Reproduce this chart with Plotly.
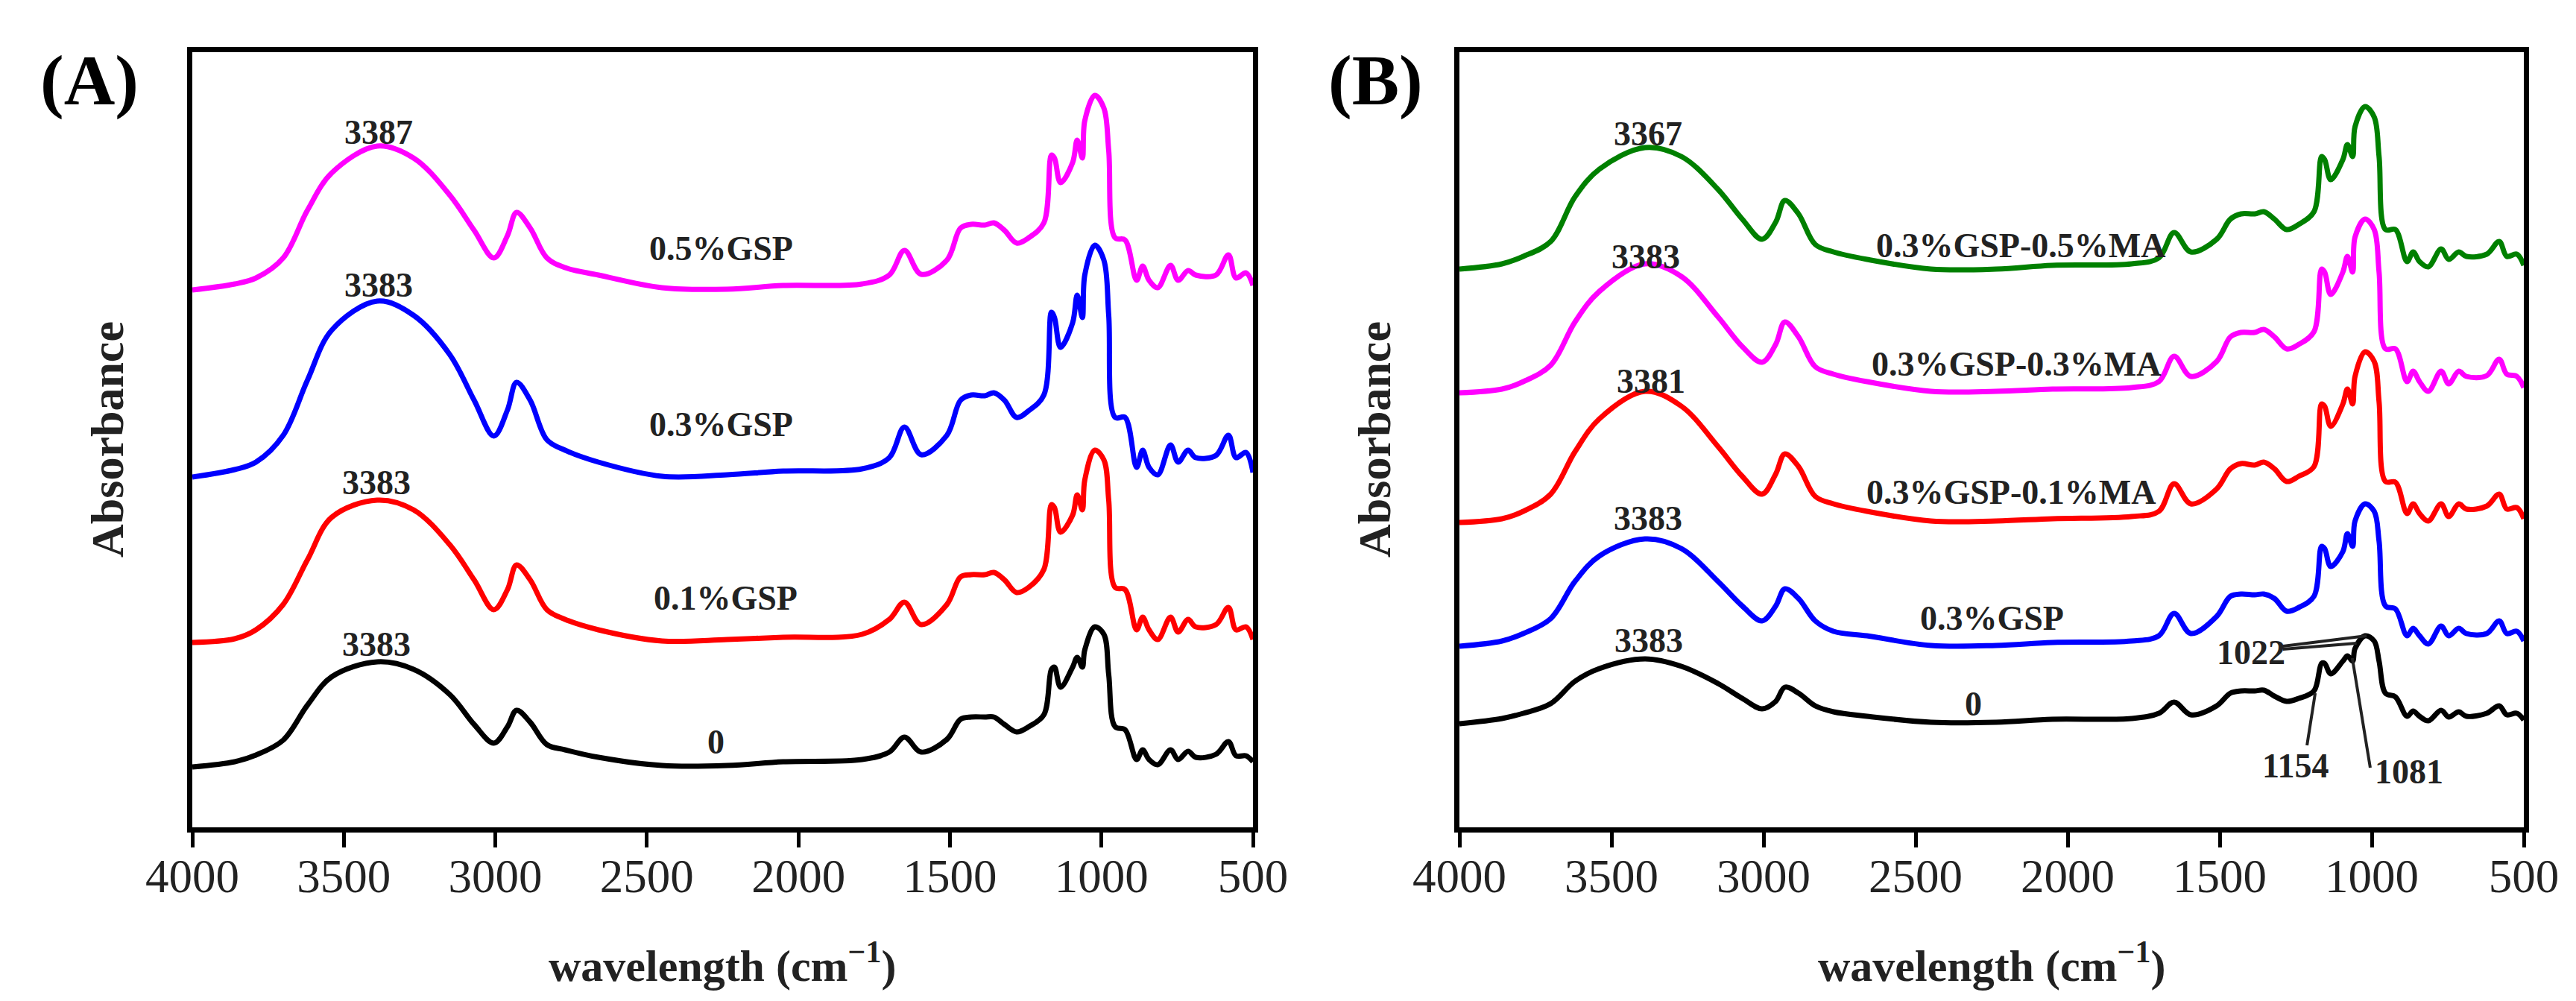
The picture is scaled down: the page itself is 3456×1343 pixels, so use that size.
import plotly.graph_objects as go
from plotly.subplots import make_subplots

# wavenumber grid (cm-1) shared by all spectra
wavenumber = [4000, 3860, 3790, 3700, 3620, 3540, 3390, 3270, 3150, 3070,
              3005, 2960, 2930, 2885, 2830, 2770, 2660, 2450, 2235, 2050,
              1790, 1700, 1650, 1595, 1510, 1465, 1430, 1385, 1355, 1320,
              1280, 1240, 1190, 1165, 1155, 1135, 1095, 1080, 1063, 1055,
              1022, 992, 976, 955, 922, 884, 864, 843, 814, 772,
              747, 714, 689, 622, 581, 556, 523, 500]

# ---- panel A, offset absorbance (a.u.) ----
a_0 = [0.81, 0.88, 0.97, 1.17, 1.64, 2.02, 2.22, 2.12, 1.78, 1.38,
       1.13, 1.35, 1.57, 1.41, 1.11, 1.04, 0.94, 0.83, 0.83, 0.88,
       0.91, 1.01, 1.21, 1.01, 1.18, 1.45, 1.48, 1.48, 1.48, 1.38,
       1.28, 1.35, 1.51, 2.12, 2.15, 1.88, 2.15, 2.28, 2.15, 2.38,
       2.69, 2.59, 2.05, 1.35, 1.31, 0.91, 1.04, 0.91, 0.84, 1.04,
       0.91, 1.02, 0.94, 0.98, 1.15, 0.96, 0.96, 0.88]
a_gsp01 = [2.48, 2.53, 2.65, 2.99, 3.59, 4.16, 4.39, 4.26, 3.79, 3.32,
           2.92, 3.19, 3.52, 3.32, 2.92, 2.79, 2.65, 2.50, 2.52, 2.55,
           2.59, 2.79, 3.02, 2.72, 2.99, 3.36, 3.39, 3.39, 3.42, 3.32,
           3.15, 3.22, 3.46, 4.33, 4.29, 3.96, 4.19, 4.46, 4.26, 4.66,
           5.06, 4.93, 4.39, 3.22, 3.19, 2.65, 2.82, 2.65, 2.52, 2.82,
           2.62, 2.79, 2.69, 2.72, 2.95, 2.65, 2.69, 2.52]
a_gsp03 = [4.70, 4.80, 4.90, 5.26, 6.00, 6.67, 7.06, 6.87, 6.34, 5.73,
           5.25, 5.60, 5.97, 5.73, 5.20, 5.06, 4.90, 4.71, 4.73, 4.78,
           4.81, 4.96, 5.37, 5.00, 5.26, 5.73, 5.80, 5.79, 5.83, 5.73,
           5.50, 5.59, 5.80, 6.91, 6.84, 6.44, 6.77, 7.14, 6.84, 7.41,
           7.81, 7.61, 6.87, 5.50, 5.50, 4.83, 5.06, 4.83, 4.73, 5.13,
           4.90, 5.06, 4.96, 4.99, 5.26, 4.96, 5.03, 4.76]
a_gsp05 = [7.21, 7.29, 7.37, 7.64, 8.28, 8.78, 9.14, 8.98, 8.48, 8.01,
           7.64, 7.94, 8.25, 8.04, 7.64, 7.51, 7.41, 7.24, 7.22, 7.27,
           7.29, 7.41, 7.74, 7.42, 7.61, 8.04, 8.09, 8.08, 8.11, 8.01,
           7.84, 7.91, 8.11, 9.02, 8.98, 8.65, 8.92, 9.22, 8.98, 9.48,
           9.82, 9.65, 9.08, 7.91, 7.88, 7.34, 7.53, 7.34, 7.24, 7.54,
           7.34, 7.47, 7.41, 7.41, 7.68, 7.37, 7.44, 7.27]

# ---- panel B ----
b_0 = [1.39, 1.46, 1.53, 1.66, 1.96, 2.13, 2.26, 2.16, 1.93, 1.73,
       1.59, 1.69, 1.88, 1.80, 1.63, 1.55, 1.49, 1.41, 1.41, 1.45,
       1.46, 1.53, 1.68, 1.51, 1.63, 1.80, 1.83, 1.83, 1.84, 1.76,
       1.69, 1.73, 1.83, 2.20, 2.20, 2.06, 2.23, 2.30, 2.23, 2.40,
       2.57, 2.50, 2.23, 1.80, 1.75, 1.49, 1.56, 1.49, 1.43, 1.57,
       1.48, 1.55, 1.49, 1.53, 1.63, 1.51, 1.53, 1.44]
b_gsp03 = [2.43, 2.50, 2.60, 2.80, 3.30, 3.64, 3.87, 3.74, 3.30, 2.97,
           2.77, 2.97, 3.20, 3.07, 2.77, 2.63, 2.57, 2.44, 2.44, 2.48,
           2.50, 2.57, 2.87, 2.60, 2.83, 3.10, 3.13, 3.12, 3.13, 3.07,
           2.90, 2.95, 3.10, 3.77, 3.74, 3.50, 3.70, 3.94, 3.77, 4.11,
           4.34, 4.24, 3.84, 2.97, 2.93, 2.57, 2.67, 2.57, 2.46, 2.70,
           2.57, 2.67, 2.60, 2.60, 2.77, 2.60, 2.63, 2.50]
b_ma01 = [4.09, 4.14, 4.24, 4.47, 5.04, 5.48, 5.85, 5.65, 5.11, 4.71,
          4.47, 4.74, 5.01, 4.84, 4.44, 4.34, 4.24, 4.11, 4.11, 4.14,
          4.17, 4.24, 4.61, 4.34, 4.54, 4.81, 4.88, 4.86, 4.90, 4.81,
          4.64, 4.71, 4.84, 5.68, 5.65, 5.38, 5.68, 5.88, 5.68, 6.05,
          6.38, 6.25, 5.71, 4.64, 4.63, 4.21, 4.34, 4.21, 4.11, 4.34,
          4.17, 4.34, 4.27, 4.31, 4.47, 4.27, 4.29, 4.14]
b_ma03 = [5.83, 5.88, 5.98, 6.20, 6.78, 7.19, 7.56, 7.39, 6.85, 6.45,
          6.24, 6.48, 6.78, 6.58, 6.18, 6.08, 5.98, 5.85, 5.85, 5.88,
          5.90, 5.98, 6.32, 6.05, 6.25, 6.58, 6.64, 6.64, 6.68, 6.58,
          6.42, 6.48, 6.65, 7.49, 7.45, 7.15, 7.45, 7.66, 7.45, 7.92,
          8.16, 8.02, 7.45, 6.42, 6.42, 5.98, 6.12, 5.98, 5.85, 6.12,
          5.95, 6.12, 6.05, 6.06, 6.28, 6.08, 6.05, 5.90]
b_ma05 = [7.49, 7.56, 7.66, 7.86, 8.46, 8.83, 9.12, 9.00, 8.56, 8.16,
          7.89, 8.12, 8.41, 8.23, 7.82, 7.72, 7.62, 7.49, 7.49, 7.54,
          7.56, 7.64, 7.98, 7.72, 7.89, 8.16, 8.23, 8.23, 8.26, 8.16,
          8.02, 8.09, 8.26, 9.00, 8.96, 8.69, 8.96, 9.16, 9.00, 9.40,
          9.67, 9.53, 9.00, 8.02, 8.02, 7.59, 7.72, 7.59, 7.52, 7.76,
          7.62, 7.72, 7.66, 7.69, 7.86, 7.66, 7.69, 7.54]

a_series = [a_0, a_gsp01, a_gsp03, a_gsp05]
a_colors = ["black", "#ff0000", "#0000ff", "#ff00ff"]
a_names = ["0", "0.1%GSP", "0.3%GSP", "0.5%GSP"]

b_series = [b_0, b_gsp03, b_ma01, b_ma03, b_ma05]
b_colors = ["black", "#0000ff", "#ff0000", "#ff00ff", "#008000"]
b_names = ["0", "0.3%GSP", "0.3%GSP-0.1%MA", "0.3%GSP-0.3%MA", "0.3%GSP-0.5%MA"]

# text labels: (text, wavenumber, absorbance)
a_labels = [("3387", 3385, 9.32), ("3383", 3385, 7.27), ("3383", 3392, 4.62),
            ("3383", 3392, 2.45), ("0.5%GSP", 2254, 7.76), ("0.3%GSP", 2254, 5.40),
            ("0.1%GSP", 2241, 3.07), ("0", 2271, 1.14)]
b_labels = [("3367", 3380, 9.30), ("3383", 3387, 7.65), ("3381", 3370, 5.98),
            ("3383", 3380, 4.14), ("3383", 3377, 2.50),
            ("0.3%GSP-0.5%MA", 2154, 7.80), ("0.3%GSP-0.3%MA", 2169, 6.21),
            ("0.3%GSP-0.1%MA", 2186, 4.49), ("0.3%GSP", 2248, 2.80), ("0", 2311, 1.65),
            ("1022", 1397, 2.34), ("1154", 1252, 0.82), ("1081", 877, 0.75)]
# leader lines in panel B: (x0, y0, x1, y1)
b_leaders = [(1292, 2.43, 1017, 2.57), (1292, 2.39, 1050, 2.47),
             (1213, 1.10, 1186, 1.80), (1005, 0.80, 1064, 2.27)]

SERIF = "Liberation Serif"
fig = make_subplots(rows=1, cols=2)

for ys, c, n in zip(a_series, a_colors, a_names):
    fig.add_trace(go.Scatter(x=wavenumber, y=ys, name=n, mode="lines",
                             line=dict(color=c, width=7, shape="spline", smoothing=1.0)),
                  row=1, col=1)
for ys, c, n in zip(b_series, b_colors, b_names):
    fig.add_trace(go.Scatter(x=wavenumber, y=ys, name=n, mode="lines",
                             line=dict(color=c, width=7, shape="spline", smoothing=1.0)),
                  row=1, col=2)

for t, x, y in a_labels:
    fig.add_annotation(x=x, y=y, xref="x", yref="y", text="<b>%s</b>" % t, showarrow=False,
                       xanchor="center", yanchor="middle",
                       font=dict(family=SERIF, size=46, color="#222"))
for t, x, y in b_labels:
    fig.add_annotation(x=x, y=y, xref="x2", yref="y2", text="<b>%s</b>" % t, showarrow=False,
                       xanchor="center", yanchor="middle",
                       font=dict(family=SERIF, size=46, color="#222"))
for x0, y0, x1, y1 in b_leaders:
    fig.add_shape(type="line", x0=x0, y0=y0, x1=x1, y1=y1, xref="x2", yref="y2",
                  line=dict(color="#222", width=4))

ydom = [241 / 1343, 1281 / 1343]
for i, dom in [(1, [250 / 3456, 1673 / 3456]), (2, [1950 / 3456, 3378 / 3456])]:
    fig.update_xaxes(domain=dom, range=[4000, 500], tickvals=[4000, 3500, 3000, 2500, 2000, 1500, 1000, 500],
                     ticks="outside", ticklen=20, tickwidth=5, tickcolor="black",
                     showline=True, linewidth=7, linecolor="black", mirror=True,
                     showgrid=False, zeroline=False, automargin=False, ticklabelstandoff=-16,
                     tickfont=dict(family=SERIF, size=63, color="#222"), row=1, col=i)
    fig.update_yaxes(domain=ydom, range=[0, 10.4], showticklabels=False, ticks="",
                     showline=True, linewidth=7, linecolor="black", mirror=True,
                     showgrid=False, zeroline=False, automargin=False, row=1, col=i)

# titles and panel letters
for ref, ylab_x, letter, lx in [("x domain", 136 / 3456, "(A)", 112 / 3456),
                                ("x2 domain", 1836 / 3456, "(B)", 1837 / 3456)]:
    fig.add_annotation(x=0.5, y=60 / 1343, xref=ref, yref="paper", showarrow=False,
                       xanchor="center", yanchor="middle",
                       text="<b>wavelength (cm<sup>\u22121</sup>)</b>",
                       font=dict(family=SERIF, size=60, color="#222"))
    fig.add_annotation(x=ylab_x, y=761 / 1343, xref="paper", yref="paper", showarrow=False,
                       xanchor="center", yanchor="middle",
                       text="<b>Absorbance</b>", textangle=-90,
                       font=dict(family=SERIF, size=62, color="#222"))
    fig.add_annotation(x=lx, y=1243 / 1343, xref="paper", yref="paper", showarrow=False,
                       xanchor="center", yanchor="middle",
                       text="<b>%s</b>" % letter,
                       font=dict(family=SERIF, size=95, color="black"))

fig.update_layout(width=3456, height=1343, margin=dict(l=0, r=0, t=0, b=0, autoexpand=False),
                  showlegend=False, plot_bgcolor="white", paper_bgcolor="white",
                  template="plotly_white")
fig.write_html("out.html")
